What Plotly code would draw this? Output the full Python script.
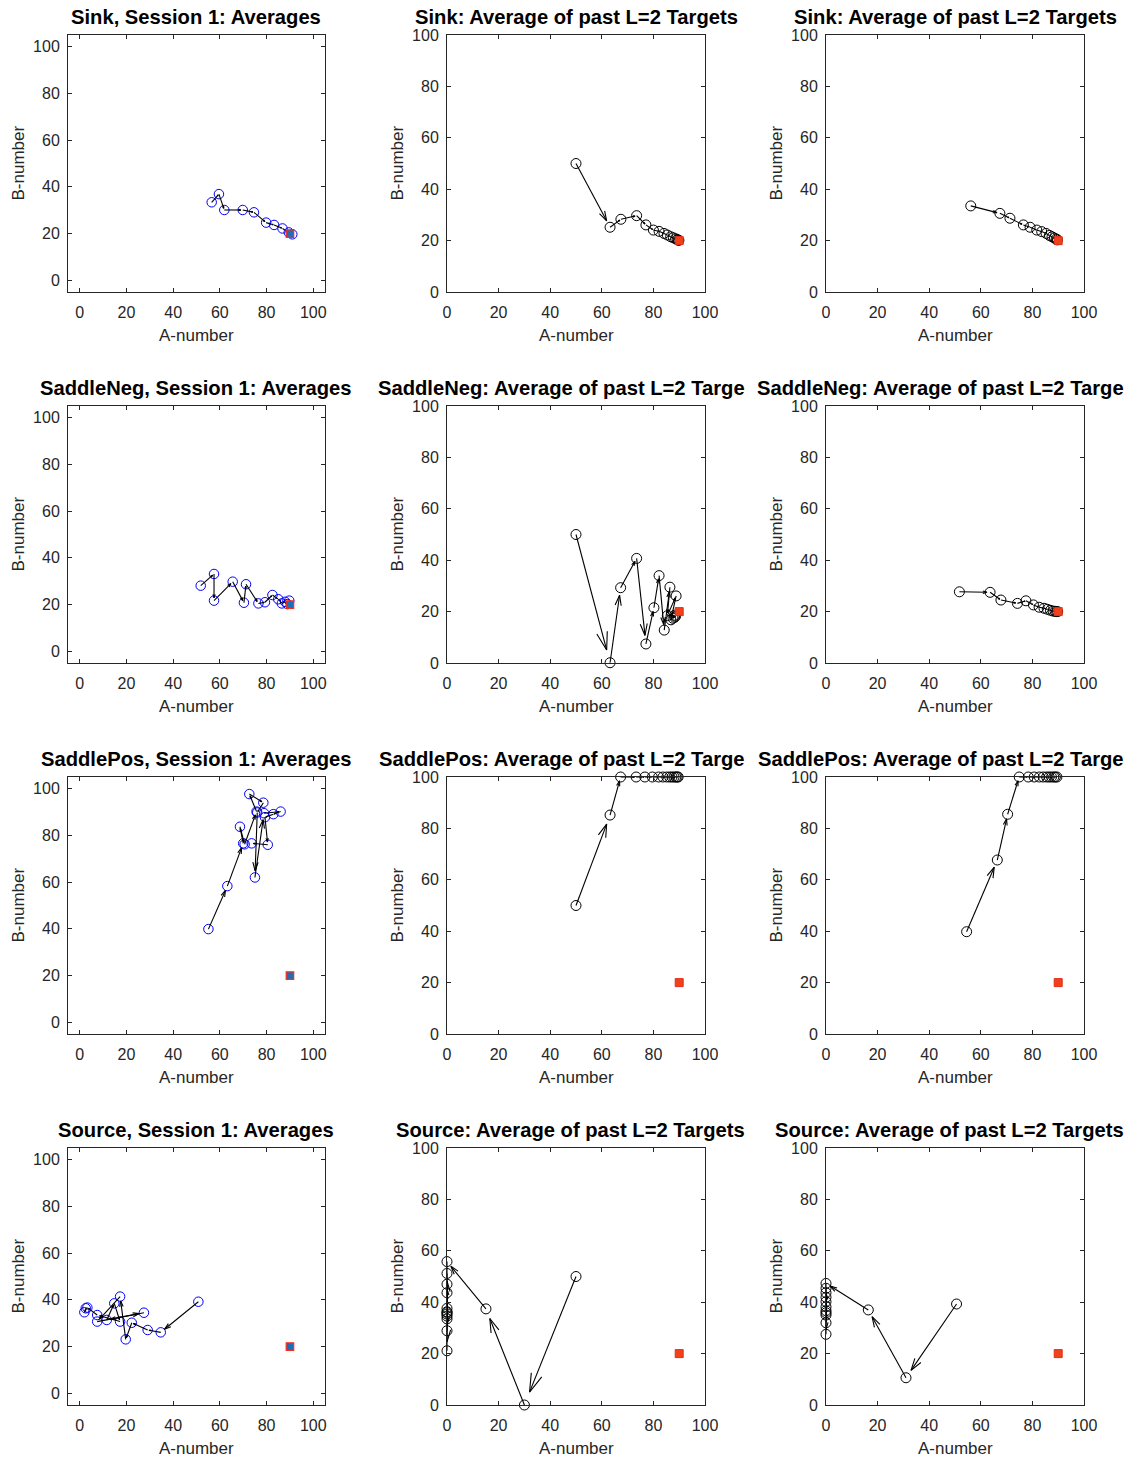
import plotly.graph_objects as go

# ---------------- data ----------------
target_a = [90]
target_b = [20]
tick_values = [0, 20, 40, 60, 80, 100]
tick_labels = ["0", "20", "40", "60", "80", "100"]
x_label = "A-number"
y_label = "B-number"

panel_titles = [
    ["Sink, Session 1: Averages", "Sink: Average of past L=2 Targets", "Sink: Average of past L=2 Targets"],
    ["SaddleNeg, Session 1: Averages", "SaddleNeg: Average of past L=2 Targe", "SaddleNeg: Average of past L=2 Targe"],
    ["SaddlePos, Session 1: Averages", "SaddlePos: Average of past L=2 Targe", "SaddlePos: Average of past L=2 Targe"],
    ["Source, Session 1: Averages", "Source: Average of past L=2 Targets", "Source: Average of past L=2 Targets"],
]

# Sink
sink_avg_a = [56.5, 59.6, 61.9, 69.8, 74.6, 79.8, 83.2, 86.8, 89.5, 91.0]
sink_avg_b = [33.4, 36.9, 30.1, 30.1, 29.1, 24.7, 23.7, 22.2, 20.5, 19.7]
sink_l2a_a = [50, 63.2, 67.4, 73.5, 77.1, 80.0, 82.2, 84.1, 85.4, 86.7, 87.7, 88.6, 89.2, 89.6, 89.9]
sink_l2a_b = [50, 25.2, 28.3, 29.7, 26.1, 24.1, 23.6, 22.8, 22.2, 21.5, 21.1, 20.7, 20.4, 20.2, 20.1]
sink_l2b_a = [56.1, 67.4, 71.3, 76.5, 79.1, 81.7, 83.6, 85.3, 86.6, 87.6, 88.5, 89.2, 89.7]
sink_l2b_b = [33.5, 30.6, 28.7, 26.1, 25.2, 24.1, 23.5, 22.8, 22.0, 21.5, 21.0, 20.6, 20.3]

# SaddleNeg
sneg_avg_a = [51.8, 57.5, 57.5, 65.5, 70.3, 71.2, 76.5, 79.3, 82.5, 85.0, 86.5, 87.9, 88.9, 89.7]
sneg_avg_b = [28.1, 33.1, 21.7, 29.8, 20.8, 28.7, 20.5, 21.0, 24.1, 22.3, 20.5, 21.2, 20.2, 21.7]
sneg_l2a_a = [50, 63.2, 67.3, 73.5, 77.1, 80.2, 82.2, 84.2, 86.4, 85.4, 88.8, 86.8, 88.2, 87.6, 88.6, 88.2]
sneg_l2a_b = [50, 0.1, 29.3, 40.7, 7.4, 21.5, 34.0, 12.8, 29.5, 18.4, 26.1, 16.8, 18.6, 17.4, 18.2, 17.8]
sneg_l2b_a = [51.7, 63.6, 67.8, 74.2, 77.5, 80.4, 82.6, 84.5, 85.8, 87.0, 88.0, 88.8, 89.4, 89.8]
sneg_l2b_b = [27.7, 27.5, 24.5, 23.2, 24.2, 22.6, 21.7, 21.3, 20.9, 20.5, 20.2, 20.1, 20.0, 20.0]

# SaddlePos
spos_avg_a = [55.1, 63.2, 70.0, 68.6, 70.6, 75.7, 72.6, 78.6, 76.0, 75.0, 78.9, 86.0, 82.9, 79.3, 80.5, 73.6]
spos_avg_b = [39.9, 58.3, 76.6, 83.7, 76.2, 90.2, 97.7, 94.0, 89.8, 62.0, 89.5, 90.2, 89.1, 87.8, 76.0, 76.6]
spos_l2a_a = [50, 63.2, 67.3, 73.3, 76.7, 79.6, 82.0, 83.7, 85.2, 86.3, 87.2, 88.0, 88.7, 89.2, 89.6]
spos_l2a_b = [50, 85.2, 100, 100, 100, 100, 100, 100, 100, 100, 100, 100, 100, 100, 100]
spos_l2b_a = [54.5, 66.4, 70.4, 74.9, 78.4, 80.7, 82.7, 84.2, 85.5, 86.5, 87.4, 88.3, 88.9, 89.5]
spos_l2b_b = [39.8, 67.7, 85.5, 100, 100, 100, 100, 100, 100, 100, 100, 100, 100, 100]

# Source
src_avg_a = [50.8, 34.7, 29.1, 22.3, 19.7, 17.3, 7.5, 27.5, 11.6, 14.8, 17.3, 7.5, 3.3, 2.0, 2.6]
src_avg_b = [39.2, 26.1, 27.1, 30.2, 23.1, 41.4, 30.7, 34.5, 31.4, 38.5, 30.7, 33.5, 36.7, 34.7, 36.4]
src_l2a_a = [50, 30, 15.1, 0, 0, 0, 0, 0, 0, 0, 0, 0, 0, 0, 0]
src_l2a_b = [50, 0, 37.4, 55.8, 21.1, 51.2, 28.9, 47.0, 33.5, 43.7, 34.6, 37.6, 35.4, 36.3, 36.0]
src_l2b_a = [50.6, 31.0, 16.4, 0, 0, 0, 0, 0, 0, 0, 0, 0, 0, 0]
src_l2b_b = [39.3, 10.6, 37.0, 47.3, 27.5, 45.4, 32.0, 43.7, 35.0, 41.9, 35.9, 40.2, 36.7, 38.2]

panel_data = [
    [(sink_avg_a, sink_avg_b), (sink_l2a_a, sink_l2a_b), (sink_l2b_a, sink_l2b_b)],
    [(sneg_avg_a, sneg_avg_b), (sneg_l2a_a, sneg_l2a_b), (sneg_l2b_a, sneg_l2b_b)],
    [(spos_avg_a, spos_avg_b), (spos_l2a_a, spos_l2a_b), (spos_l2b_a, spos_l2b_b)],
    [(src_avg_a, src_avg_b), (src_l2a_a, src_l2a_b), (src_l2b_a, src_l2b_b)],
]

# ---------------- layout geometry (pixels) ----------------
W, H = 1130, 1460
col_px = [(68, 325), (447, 705), (826, 1084)]
row_px = [(35, 292), (406, 663), (777, 1034), (1148, 1405)]
left_title_px = {(1, 1): 376, (1, 2): 755, (2, 1): 377, (2, 2): 756, (3, 1): 394, (3, 2): 773}

FONT = "Liberation Sans, Arial, Helvetica, sans-serif"
AX = "#262626"
TITLE_SIZE = 20.2


def quiver(a, b, scale=0.9, head=0.15, half=0.045):
    xs, ys = [], []
    for i in range(len(a) - 1):
        x0, y0 = a[i], b[i]
        u = (a[i + 1] - x0) * scale
        v = (b[i + 1] - y0) * scale
        x1, y1 = x0 + u, y0 + v
        xs += [x0, x1, None]
        ys += [y0, y1, None]
        bx, by = x1 - head * u, y1 - head * v
        px, py = -v * half, u * half
        xs += [bx + px, x1, bx - px, None]
        ys += [by + py, y1, by - py, None]
    return xs, ys


fig = go.Figure()
layout = dict(
    width=W, height=H, margin=dict(l=0, r=0, t=0, b=0, autoexpand=False),
    paper_bgcolor="white", plot_bgcolor="white", showlegend=False,
    font=dict(family=FONT, color=AX),
)
annotations = []

n = 0
for r in range(4):
    for c in range(3):
        n += 1
        xa = "x" if n == 1 else f"x{n}"
        ya = "y" if n == 1 else f"y{n}"
        a, b = panel_data[r][c]
        rng = [-5, 105] if c == 0 else [0, 100]
        x0, x1 = col_px[c]
        y0, y1 = row_px[r]
        axis_common = dict(
            range=rng, tickmode="array", tickvals=tick_values, ticktext=tick_labels,
            ticks="inside", ticklen=4, tickwidth=1, tickcolor=AX,
            showline=True, linecolor=AX, linewidth=1, mirror="ticks",
            showgrid=False, zeroline=False, fixedrange=True,
            tickfont=dict(family=FONT, size=16, color=AX),
        )
        layout["xaxis" if n == 1 else f"xaxis{n}"] = dict(
            axis_common, domain=[x0 / W, x1 / W], anchor=ya, ticklabelstandoff=6)
        layout["yaxis" if n == 1 else f"yaxis{n}"] = dict(
            axis_common, domain=[1 - y1 / H, 1 - y0 / H], anchor=xa, ticklabelstandoff=4)

        circ_color = "#0000ff" if c == 0 else "#000000"
        fig.add_trace(go.Scatter(
            x=a, y=b, mode="markers", xaxis=xa, yaxis=ya, cliponaxis=False,
            marker=dict(symbol="circle-open", size=9.5 if c == 0 else 10, color=circ_color,
                        line=dict(width=1, color=circ_color)),
            hoverinfo="skip"))
        qx, qy = quiver(a, b)
        fig.add_trace(go.Scatter(
            x=qx, y=qy, mode="lines", xaxis=xa, yaxis=ya,
            line=dict(color="black", width=1.1), hoverinfo="skip"))
        if c == 0:
            tmark = dict(symbol="square", size=7.5, color="#1f6db4", line=dict(width=1.2, color="#ff2a1a"))
        else:
            tmark = dict(symbol="square", size=8, color="#f0401c", line=dict(width=1, color="#e0301a"))
        fig.add_trace(go.Scatter(
            x=target_a, y=target_b, mode="markers", xaxis=xa, yaxis=ya, cliponaxis=False,
            marker=tmark, hoverinfo="skip"))

        # titles
        ty = 1 - (y0 - 18) / H
        if (r, c) in left_title_px:
            annotations.append(dict(
                text=panel_titles[r][c], x=left_title_px[(r, c)] / W, y=ty, xref="paper", yref="paper",
                xanchor="left", yanchor="middle", showarrow=False,
                font=dict(family=FONT, size=TITLE_SIZE, color="black", weight="bold")))
        else:
            annotations.append(dict(
                text=panel_titles[r][c], x=(x0 + x1) / 2 / W, y=ty, xref="paper", yref="paper",
                xanchor="center", yanchor="middle", showarrow=False,
                font=dict(family=FONT, size=TITLE_SIZE, color="black", weight="bold")))
        # axis labels
        annotations.append(dict(
            text=x_label, x=(x0 + x1) / 2 / W, y=1 - (y1 + 43) / H, xref="paper", yref="paper",
            xanchor="center", yanchor="middle", showarrow=False,
            font=dict(family=FONT, size=17, color=AX)))
        annotations.append(dict(
            text=y_label, x=(x0 - 50) / W, y=1 - (y0 + y1) / 2 / H, xref="paper", yref="paper",
            xanchor="center", yanchor="middle", showarrow=False, textangle=-90,
            font=dict(family=FONT, size=17, color=AX)))

layout["annotations"] = annotations
fig.update_layout(**layout)
fig.write_html(
    "out.html",
    config={"displayModeBar": False},
    post_script="document.body.style.margin='0';document.body.style.overflow='hidden';",
)
